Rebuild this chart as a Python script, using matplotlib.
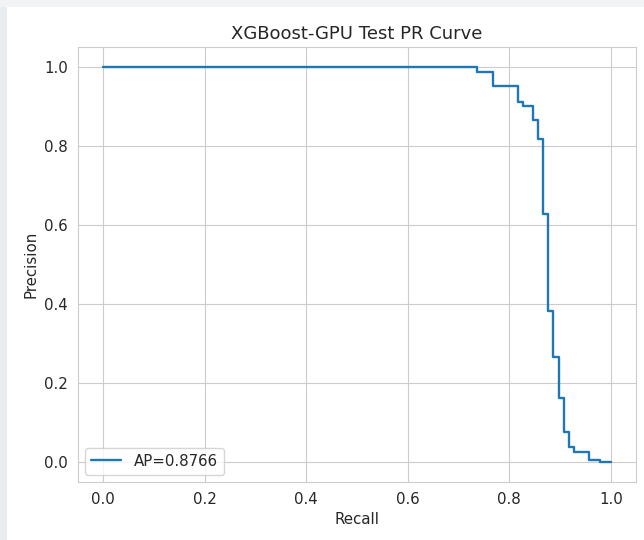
import matplotlib
matplotlib.use("Agg")
import matplotlib.pyplot as plt
import matplotlib.patches as mpatches
import seaborn as sns

recall = [0.0, 0.736, 0.767, 0.817, 0.826, 0.847, 0.857, 0.867, 0.877, 0.886,
          0.898, 0.908, 0.917, 0.928, 0.957, 0.979, 1.0]
precision = [1.0, 0.987, 0.951, 0.910, 0.901, 0.866, 0.817, 0.629, 0.382, 0.266,
             0.163, 0.076, 0.040, 0.026, 0.006, 0.002, 0.002]
ap_label = "AP=0.8766"

sns.set_style("whitegrid")
plt.rcParams['font.family'] = ['DejaVu Sans']

fig = plt.figure(figsize=(6.44, 5.40), dpi=100)
# light screenshot background strips at left and top edges
fig.patches.append(mpatches.Rectangle((0, 0), 7 / 644, 1, transform=fig.transFigure,
                                      facecolor="#e9edf0", edgecolor="none", zorder=0))
fig.patches.append(mpatches.Rectangle((0, 1 - 7 / 540), 1, 7 / 540, transform=fig.transFigure,
                                      facecolor="#f1f3f5", edgecolor="none", zorder=0))

ax = fig.add_axes([0.121, 0.107, 0.867, 0.806])
ax.step(recall, precision, where="post", color="#1f77b4", linewidth=1.7, label=ap_label)
ax.set_xlim(-0.05, 1.05)
ax.set_ylim(-0.05, 1.05)
ax.set_xticks([0.0, 0.2, 0.4, 0.6, 0.8, 1.0])
ax.set_yticks([0.0, 0.2, 0.4, 0.6, 0.8, 1.0])
ax.tick_params(labelsize=10.8)
ax.set_xlabel("Recall", fontsize=10.8)
ax.set_ylabel("Precision", fontsize=10.8)
ax.set_title("XGBoost-GPU Test PR Curve", fontsize=13)
ax.legend(loc="lower left", fontsize=10.8)
fig.savefig("out.png", dpi=100)
